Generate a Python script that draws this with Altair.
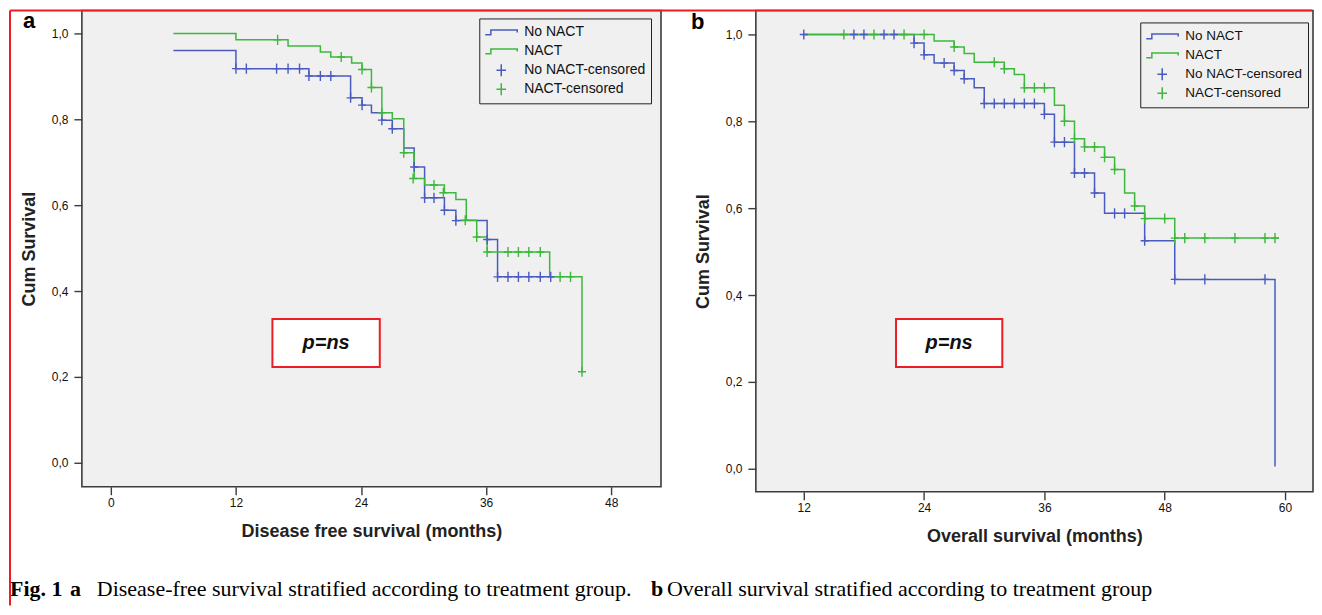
import altair as alt
import pandas as pd

BLUE = "#4a5bbf"
GREEN = "#3cb83c"
RED = "#ee1c24"
FRAME = "#3c3c3c"
PLOT_BG = "#f0f0f0"
FONT = "Liberation Sans"
SERIF = "Liberation Serif"

SERIES = ["No NACT", "NACT", "No NACT-censored", "NACT-censored"]

# ---------------- Panel a: disease free survival ----------------
a_no_t = [6, 12, 19, 23, 24.1, 25, 26, 27, 28.1, 29.1, 30.1, 32, 33.1, 36.1, 37.1, 42.5]
a_no_s = [0.960, 0.918, 0.901, 0.850, 0.833, 0.815, 0.798, 0.778, 0.733, 0.689,
          0.617, 0.588, 0.564, 0.520, 0.433, 0.433]
a_na_t = [6, 12, 17, 20.1, 21.1, 23.1, 24.1, 25, 26, 27, 28.1, 29.1, 30.1, 32,
          33.1, 34.1, 35.1, 36.1, 42.1, 45.2]
a_na_s = [1.0, 0.985, 0.971, 0.957, 0.945, 0.931, 0.916, 0.874, 0.815, 0.801,
          0.722, 0.662, 0.647, 0.629, 0.613, 0.565, 0.526, 0.491, 0.433, 0.212]
a_cno_t = [12, 13, 15.9, 17, 18.1, 19, 20.1, 21.1, 23, 24.1, 26, 27, 29.1, 30.1,
           31, 32, 33.1, 36.1, 37.1, 38.1, 39.1, 40.1, 41.2, 42.2]
a_cno_s = [0.918, 0.918, 0.918, 0.918, 0.918, 0.901, 0.901, 0.901, 0.850, 0.833,
           0.798, 0.778, 0.689, 0.617, 0.617, 0.588, 0.564, 0.520, 0.433, 0.433,
           0.433, 0.433, 0.433, 0.433]
a_cna_t = [16, 22.1, 24.1, 25, 26, 28.1, 29, 31, 31.9, 34, 35.1, 36.1, 38.1, 39.1,
           40.1, 41.2, 43.1, 44.1, 45.2]
a_cna_s = [0.985, 0.945, 0.916, 0.874, 0.815, 0.722, 0.662, 0.647, 0.629, 0.565,
           0.526, 0.491, 0.491, 0.491, 0.491, 0.491, 0.433, 0.433, 0.212]

# ---------------- Panel b: overall survival ----------------
b_no_t = [12, 23, 24, 25, 27, 28, 29, 30, 36, 37, 39, 41, 42, 46, 49, 59]
b_no_s = [1.0, 0.980, 0.953, 0.934, 0.917, 0.898, 0.877, 0.841, 0.816, 0.752,
          0.681, 0.635, 0.588, 0.525, 0.436, 0.005]
b_na_t = [12, 25, 27, 28, 29, 32, 33, 34, 37, 38, 39, 40, 42, 43, 44, 45, 46, 49, 59.4]
b_na_s = [1.0, 0.985, 0.971, 0.956, 0.936, 0.921, 0.908, 0.877, 0.837, 0.800,
          0.760, 0.741, 0.717, 0.689, 0.635, 0.605, 0.576, 0.531, 0.531]
b_cno_t = [12, 17, 18, 20, 21, 23, 24, 26, 27, 28, 30, 31, 32, 33, 34, 35, 36, 37,
           38, 39, 40, 41, 43, 44, 46, 49, 52, 58]
b_cno_s = [1.0, 1.0, 1.0, 1.0, 1.0, 0.980, 0.953, 0.934, 0.917, 0.898, 0.841, 0.841,
           0.841, 0.841, 0.841, 0.841, 0.816, 0.752, 0.752, 0.681, 0.681, 0.635,
           0.588, 0.588, 0.525, 0.436, 0.436, 0.436]
b_cna_t = [16, 19, 22, 24, 27, 31, 32, 34, 35, 36, 38, 39, 40, 41, 42, 43, 45, 46,
           48, 49, 50, 52, 55, 58, 59]
b_cna_s = [1.0, 1.0, 1.0, 1.0, 0.971, 0.936, 0.921, 0.877, 0.877, 0.877, 0.800,
           0.760, 0.741, 0.741, 0.717, 0.689, 0.605, 0.576, 0.576, 0.531, 0.531,
           0.531, 0.531, 0.531, 0.531]

y_ticks = [0.0, 0.2, 0.4, 0.6, 0.8, 1.0]
a_x_ticks = [0, 12, 24, 36, 48]
b_x_ticks = [12, 24, 36, 48, 60]

caption_parts = [
    ("Fig. 1", "bold"),
    ("a", "bold"),
    ("Disease-free survival stratified according to treatment group.", "normal"),
    ("b", "bold"),
    ("Overall survival stratified according to treatment group", "normal"),
]

# legend glyphs (the zero-length moves keep every legend row the same height)
STEP = "M-2,0.3 L-1.3,0.3 L-1.3,-0.3 L2,-0.3 L2,0 M0,-0.75 L0,-0.75 M0,0.75 L0,0.75"
PLUS = "M-0.6,0 L0.6,0 M0,-0.75 L0,0.75"

color_scale = alt.Scale(domain=SERIES, range=[BLUE, GREEN, BLUE, GREEN])
shape_scale = alt.Scale(domain=SERIES, range=[STEP, STEP, PLUS, PLUS])

one = pd.DataFrame({"k": [0]})


def make_panel(no_t, no_s, na_t, na_s, cno_t, cno_s, cna_t, cna_s,
               xdom, ydom, w, h, xticks, xtitle, lx, ly, lfs, box, letter, lxy, extra):
    xs = alt.Scale(domain=xdom, nice=False, zero=False)
    ys = alt.Scale(domain=ydom, nice=False, zero=False)
    x_axis = alt.Axis(values=xticks, format="d", title=xtitle)
    y_axis = alt.Axis(values=y_ticks,
                      labelExpr="replace(format(datum.value, '.1f'), '.', ',')",
                      title="Cum Survival")
    no_df = pd.DataFrame({"t": no_t, "s": no_s})
    na_df = pd.DataFrame({"t": na_t, "s": na_s})
    cens_df = pd.DataFrame({
        "t": cno_t + cna_t,
        "s": cno_s + cna_s,
        "series": ["No NACT-censored"] * len(cno_t) + ["NACT-censored"] * len(cna_t),
    })
    legend = alt.Legend(title=None, orient="none", legendX=lx, legendY=ly,
                        symbolSize=256, symbolStrokeWidth=1.5, symbolOffset=8,
                        labelFont=FONT, labelFontSize=lfs, labelColor="#111",
                        labelOffset=14, padding=5, rowPadding=1,
                        strokeColor="#222", fillColor=PLOT_BG)
    line_no = alt.Chart(no_df).mark_line(interpolate="step-after", strokeWidth=1.5,
                                         color=BLUE).encode(
        x=alt.X("t:Q", scale=xs, axis=x_axis),
        y=alt.Y("s:Q", scale=ys, axis=y_axis),
    )
    line_na = alt.Chart(na_df).mark_line(interpolate="step-after", strokeWidth=1.5,
                                         color=GREEN).encode(
        x=alt.X("t:Q", scale=xs, axis=x_axis),
        y=alt.Y("s:Q", scale=ys, axis=y_axis),
    )
    cens = alt.Chart(cens_df).mark_point(filled=False, size=180, strokeWidth=1.4,
                                         opacity=1).encode(
        x=alt.X("t:Q", scale=xs, axis=x_axis),
        y=alt.Y("s:Q", scale=ys, axis=y_axis),
        color=alt.Color("series:N", scale=color_scale, legend=legend),
        shape=alt.Shape("series:N", scale=shape_scale, legend=legend),
    )
    x0, x1, y0, y1 = box
    box_df = pd.DataFrame({"x": [x0], "x2": [x1], "y": [y0], "y2": [y1],
                           "xm": [(x0 + x1) / 2], "ym": [(y0 + y1) / 2],
                           "label": ["p=ns"]})
    rect = alt.Chart(box_df).mark_rect(fill="white", stroke=RED, strokeWidth=2).encode(
        x=alt.X("x:Q", scale=xs, axis=x_axis), x2="x2",
        y=alt.Y("y:Q", scale=ys, axis=y_axis), y2="y2")
    txt = alt.Chart(box_df).mark_text(font=FONT, fontSize=20, fontWeight="bold",
                                      fontStyle="italic", color="#111",
                                      baseline="middle").encode(
        x=alt.X("xm:Q", scale=xs, axis=x_axis),
        y=alt.Y("ym:Q", scale=ys, axis=y_axis),
        text="label:N")
    lab = alt.Chart(one).mark_text(text=letter, font=FONT, fontSize=22,
                                   fontWeight="bold", align="left",
                                   baseline="alphabetic", color="#000").encode(
        x=alt.value(lxy[0]), y=alt.value(lxy[1]))
    return alt.layer(line_no, line_na, cens, rect, txt, lab, *extra).properties(
        width=w, height=h)


cap_x = [-72, -12, 15, 570, 586]
cap_layers = []
for (txt_, wgt), cx in zip(caption_parts, cap_x):
    cap_layers.append(
        alt.Chart(one).mark_text(text=txt_, font=SERIF, fontSize=22, fontWeight=wgt,
                                 align="left", baseline="alphabetic", color="#000")
        .encode(x=alt.value(cx), y=alt.value(586)))

red_top = alt.Chart(one).mark_rule(color=RED, strokeWidth=2).encode(
    x=alt.value(-747), x2=alt.value(557), y=alt.value(0))
red_left = alt.Chart(one).mark_rule(color=RED, strokeWidth=2).encode(
    x=alt.value(-747), y=alt.value(0), y2=alt.value(596))

pa = make_panel(a_no_t, a_no_s, a_na_t, a_na_s, a_cno_t, a_cno_s, a_cna_t, a_cna_s,
                [-2.78, 52.78], [-0.0558, 1.0535], 580, 477, a_x_ticks,
                "Disease free survival (months)", 398, 8, 14,
                (15.5, 25.8, 0.335, 0.223), "a", (-59, 18), cap_layers)

pb = make_panel(b_no_t, b_no_s, b_na_t, b_na_s, b_cno_t, b_cno_s, b_cna_t, b_cna_s,
                [7.22, 62.79], [-0.0529, 1.0552], 558, 482, b_x_ticks,
                "Overall survival (months)", 385, 12, 13.5,
                (21.2, 31.8, 0.345, 0.234), "b", (-65, 19), [red_top, red_left])

chart = alt.hconcat(pa, pb, spacing=95, bounds="flush").resolve_scale(
    x="independent", y="independent", color="independent", shape="independent"
).resolve_legend(color="independent", shape="independent").properties(
    padding={"left": 0, "top": 0, "right": 0, "bottom": 0},
    background="white",
).configure_view(
    fill=PLOT_BG, stroke=FRAME, strokeWidth=1.6
).configure_axis(
    domain=False, grid=False,
    tickColor=FRAME, tickWidth=1.4, tickSize=8,
    labelFont=FONT, labelFontSize=12, labelColor="#111",
    titleFont=FONT, titleFontSize=18, titleFontWeight="bold", titleColor="#222",
).configure_axisY(
    labelPadding=6, titlePadding=13
).configure_axisX(
    labelPadding=3, titlePadding=14
)

chart.save("out.html", embed_options={"renderer": "svg", "actions": False})
